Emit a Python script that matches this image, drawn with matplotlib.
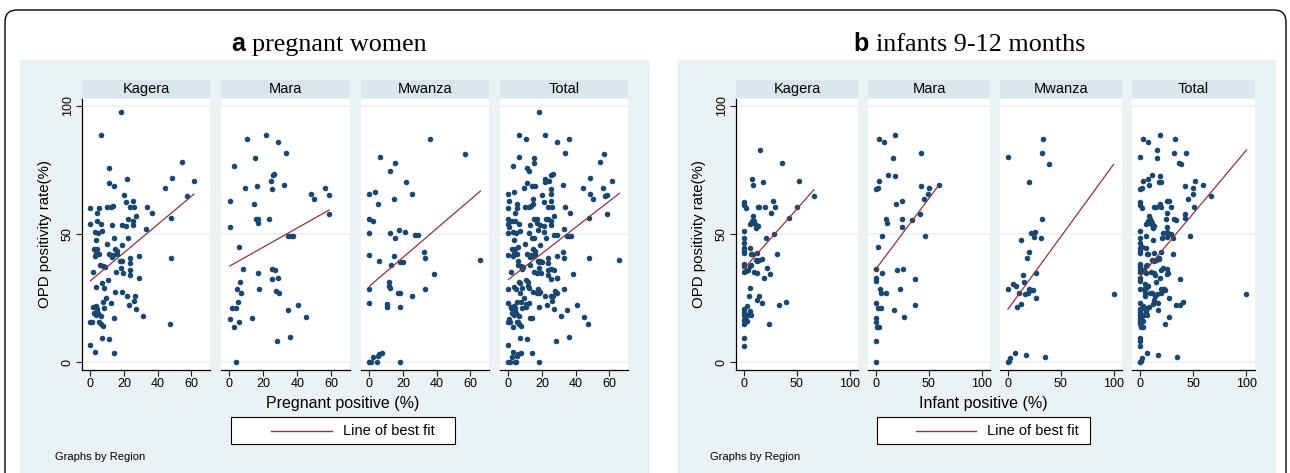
import numpy as np
import matplotlib
matplotlib.use('Agg')
import matplotlib.pyplot as plt
from matplotlib.patches import Rectangle, FancyBboxPatch
from matplotlib.lines import Line2D

plt.rcParams['font.family'] = ['Liberation Sans', 'DejaVu Sans']

# ---- data (x = region positive %, y = OPD positivity %) ----
regions = ['Kagera', 'Mara', 'Mwanza', 'Total']

preg_kagera = [(18, 97.6), (6, 88.5), (11.2, 75.6), (22, 71.4), (11.2, 70.1), (14, 68.8), (44, 67.9),
               (20, 65.2), (21, 62.6), (25, 62.8), (36.6, 58.4), (33.6, 60.4), (0, 60.2), (5.2, 60.1),
               (10, 60.4), (12, 60.4), (13.6, 60.9), (23.6, 60.5), (26, 60.5), (4, 58.1), (27, 57.2),
               (4, 55.3), (22.4, 55.8), (25, 55.3), (0, 54), (6, 53.8), (12.6, 53.5), (19, 53.7),
               (21, 53.3), (25.2, 53.7), (33, 52), (48, 56.3), (2.6, 50.7), (4.6, 50.5), (7, 51.1),
               (14.2, 48.6), (22.6, 48.6), (3.6, 47.6), (10, 46.3), (18.6, 45.6), (2, 44.3), (4.2, 44.3),
               (14.6, 44.2), (15.6, 43.5), (3.2, 42.6), (5.2, 42.4), (11, 42.4), (13.6, 42), (16, 42.2),
               (2.6, 41.3), (13, 41.2), (29, 41.6), (23.6, 40.7), (17.6, 39.6), (18.6, 39.4), (23.6, 38.7),
               (5.6, 38.1), (7.2, 37.4), (8.6, 37.3), (18, 36.8), (23.6, 35.9), (1.4, 35.1), (15, 35.1),
               (19.2, 34.8), (23.6, 34.2), (28.6, 33), (10.6, 32.2), (6.6, 30.9), (3.4, 29.3), (8, 28.9),
               (14.6, 27.6), (18.8, 27.6), (21.6, 25.9), (9.2, 25), (7.6, 23.7), (26.6, 25.7), (25.6, 24),
               (12.2, 23.2), (23.2, 22.4), (1.8, 21.4), (3.6, 21.9), (4.2, 20.9), (8.2, 21.1), (27, 20.9),
               (2, 19.2), (3.2, 18.5), (4.6, 19.2), (6, 18.2), (31.4, 18.1), (0, 15.9), (1.2, 15.9),
               (5, 15.9), (6.2, 15), (7.2, 14.1), (14, 17.3), (47, 14.9), (6.6, 9.5), (11.2, 9.1),
               (0, 6.6), (2.8, 3.9), (14.2, 3.5), (48.5, 72), (54.5, 78), (61.4, 70.8), (57.6, 64.8),
               (47.6, 40.6)]

preg_mara = [(10.4, 87), (21.8, 88.5), (28.8, 86), (15, 79.8), (2.6, 76.5), (25.4, 73), (26.4, 73.3),
             (24.2, 70.9), (9, 67.9), (16, 68.7), (25.2, 67.5), (0.2, 63), (14.4, 61.9), (15.4, 56),
             (16.8, 56), (17, 54.4), (23.4, 55.9), (0.2, 52.8), (5.4, 45), (8.2, 36.2), (17, 34.7),
             (25, 36.5), (27, 36), (25, 32.6), (28.8, 32.7), (6.4, 31.4), (4.4, 28.7), (7, 27),
             (17.4, 28.6), (27.4, 27.9), (29, 27.1), (5.2, 23.5), (1.6, 21.3), (4, 21.1), (0.2, 17),
             (5.6, 15.6), (2.8, 13.8), (13, 17.2), (28.2, 8.2), (3.8, 0), (33.3, 81.5), (32.4, 69.2),
             (48.2, 65.6), (50, 63.8), (56.1, 67.9), (58.7, 65.4), (58.5, 57.8), (34.7, 49.2),
             (36, 49.2), (37.3, 49.2), (34.7, 20.3), (40.5, 22.3), (44.8, 17.5), (35.7, 9.9)]

preg_mwanza = [(6.2, 80), (12, 74.5), (0, 65.7), (3.4, 66.5), (5, 61.7), (0, 55.9), (2.4, 55.1),
               (0, 50.3), (12.4, 50.5), (15, 48.6), (17.3, 51.6), (21, 50.9), (27.3, 49.5), (28.6, 49.5),
               (15, 77.6), (14.8, 63.6), (21.6, 70.3), (25, 65.6), (36, 87.2), (56.8, 81.3), (0, 41.9),
               (5.6, 39.5), (14.8, 41.4), (13, 37.9), (18, 39.2), (19.8, 39.1), (32.3, 43.1),
               (32.8, 40.6), (38.6, 34.6), (65.9, 39.8), (11.6, 31.2), (11.8, 29.9), (12.4, 28.9),
               (0, 28.6), (17.2, 27.1), (18, 27.1), (33, 28.5), (25, 26), (0, 23.2), (10.4, 22.8),
               (10.4, 21.4), (18, 21.4), (0, 0), (0.8, 0), (4.4, 0), (18, 0), (2.4, 2), (4.8, 2.5),
               (5.8, 3.1), (7.6, 3.7)]

inf_kagera = [(15.6, 82.7), (36.3, 77.8), (7.5, 71.4), (8.8, 69), (17.8, 70.3), (51.9, 70.8), (66.3, 64.8),
              (0, 62.6), (0.3, 61.3), (1.9, 60.2), (13.4, 60.5), (14.7, 60.5), (19.7, 60.5), (27.2, 62.8),
              (29.4, 60.5), (25.6, 58.3), (50.6, 60.5), (42.5, 56.3), (8.8, 57.1), (5.6, 54), (7.5, 54.8),
              (10, 55.3), (11.6, 53.7), (13.4, 53.2), (11.9, 52.2), (9, 54.2), (7.2, 55.3), (0, 51.1),
              (0, 48.5), (0, 46.5), (0, 44.6), (0, 43.3), (0, 42.6), (20.9, 48.6), (28.8, 50.2),
              (5.3, 44.6), (6.3, 42.4), (7.5, 42.4), (12.8, 42.6), (31.3, 42.2), (11.6, 40), (14.7, 40),
              (17.5, 40.3), (12.8, 39.4), (0, 38.5), (0, 37.4), (5.3, 37.4), (6.3, 38.1), (21.9, 36.8),
              (4, 35.9), (1.9, 35.5), (0, 35.1), (10, 35.1), (12.8, 34.8), (25, 34.3), (19, 33),
              (6, 28.9), (4.4, 25.8), (14.4, 25.9), (12.8, 24.2), (16.9, 23.2), (40.3, 23.6), (33.4, 22.3),
              (0, 20.9), (0, 19.6), (0, 18.3), (0, 16.6), (0, 14.9), (3.1, 21.8), (5.3, 20.2), (1.3, 17.2),
              (3.8, 18.3), (6.6, 18.3), (2.5, 16.2), (0.6, 15.6), (23.4, 14.9), (0, 9.5), (0, 6.5)]

inf_mara = [(18.4, 88.5), (2.8, 87), (7.5, 86), (16.3, 79.8), (42.8, 81.5), (11.3, 73.1), (18.4, 72.6),
            (2.5, 70.9), (0, 67.5), (2.2, 67.9), (42.5, 68.7), (50, 67.9), (49.7, 65.6), (59.4, 69.2),
            (45.3, 63.6), (18.8, 61.9), (25, 63.1), (41.9, 57.9), (9.7, 55.9), (10.9, 54.4), (24.4, 55.9),
            (34, 55.7), (25, 52.8), (5.3, 49.2), (46.6, 49.2), (1.6, 45), (0, 36.4), (5.6, 34.7),
            (19.7, 36), (25.3, 36.4), (0, 32.9), (0, 31.6), (37.2, 32.5), (4.1, 28.7), (4.4, 26.9),
            (9.7, 26.9), (22.8, 28.6), (0, 23.3), (1.6, 21.1), (5, 21), (16.9, 20.3), (37.2, 22.3),
            (26.9, 17.5), (0.3, 17.2), (0.3, 15.8), (1.3, 13.6), (2.8, 13.6), (0, 8.2), (0, 0)]

inf_mwanza = [(33.1, 87.2), (0, 80), (31.9, 81.5), (38.8, 77.3), (19.7, 70.3), (31.9, 55.8), (21.9, 50.6),
              (25.3, 51), (25, 49), (30.9, 48.4), (12.5, 47.8), (19.7, 43.2), (17.8, 40.7), (26.6, 34.7),
              (14.4, 33.9), (15.3, 31.2), (5, 30.4), (7.5, 29.9), (0, 28.7), (20, 28.4), (21.9, 28.2),
              (23.8, 28.2), (19.4, 27.1), (16.3, 26.7), (10.9, 26.9), (26.9, 24.9), (12.2, 22.8),
              (8.8, 21.4), (0, 0), (0.6, 0.5), (1.9, 1.6), (6.3, 3.5), (17.2, 2.9), (34.7, 2), (100, 26.8)]

# line of best fit per facet: (intercept, slope)
fit_preg = [(31.8, 0.55), (37.5, 0.373), (29.7, 0.563), (32.3, 0.51)]
fit_inf = [(36.5, 0.465), (36.4, 0.549), (20.7, 0.565), (33.3, 0.495)]

W, H = 1290, 473
BG = '#eaf2f3'
STRIP = '#d9e6eb'
NAVY = '#1a476f'
MAROON = '#90353b'

fig = plt.figure(figsize=(W / 100, H / 100), dpi=100)
fig.patch.set_facecolor('white')


def fx(x):
    return x / W


def fy(y):
    return 1 - y / H


# outer rounded border
border = FancyBboxPatch((5 / 100, -0.5), 1281 / 100, (H - 10) / 100 + 0.5,
                        boxstyle='round,pad=0,rounding_size=0.12', transform=fig.dpi_scale_trans,
                        facecolor='white', edgecolor='black', linewidth=1.0, zorder=0)
fig.patches.append(border)


def draw_panel(groups, fits, facets, bg_x, xlim, xticks, xlabel, xlabel_x, ylab_x,
               legend_box, legend_line, graphs_x, tag, title, tag_x, title_x):
    # panel background
    fig.patches.append(Rectangle((fx(bg_x[0]), 0), fx(bg_x[1]) - fx(bg_x[0]), fy(60),
                                 transform=fig.transFigure, facecolor=BG, edgecolor='none', zorder=1))
    allx = np.concatenate([np.array(g)[:, 0] for g in groups])
    ally = np.concatenate([np.array(g)[:, 1] for g in groups])
    data = [(np.array(g)[:, 0], np.array(g)[:, 1]) for g in groups] + [(allx, ally)]
    for i, (x0, x1) in enumerate(facets):
        ax = fig.add_axes([fx(x0), fy(370), fx(x1) - fx(x0), fy(99) - fy(370)])
        ax.set_zorder(3)
        ax.set_facecolor('white')
        xs, ys = data[i]
        for g in (0, 50, 100):
            ax.axhline(g, color=BG, lw=1.2, zorder=1)
        ax.scatter(xs, ys, s=16, color=NAVY, linewidths=0, zorder=3)
        b0, b1 = fits[i]
        lx = np.array([xs.min(), xs.max()])
        ax.plot(lx, b0 + b1 * lx, color=MAROON, lw=0.9, zorder=4)
        ax.set_xlim(*xlim)
        ax.set_ylim(-3, 102.7)
        ax.set_xticks(xticks)
        ax.tick_params(axis='x', length=4, width=0.8, labelsize=9, pad=2, color='#222222')
        for s in ('top', 'right'):
            ax.spines[s].set_visible(False)
        ax.spines['bottom'].set_linewidth(0.9)
        if i == 0:
            ax.set_yticks([0, 50, 100])
            ax.tick_params(axis='y', length=4, width=0.8, labelsize=9, pad=2, color='#222222')
            for lab in ax.get_yticklabels():
                lab.set_rotation(90)
                lab.set_va('center')
            ax.spines['left'].set_linewidth(0.9)
        else:
            ax.set_yticks([])
            ax.spines['left'].set_visible(False)
        # strip
        fig.patches.append(Rectangle((fx(x0), fy(98)), fx(x1) - fx(x0), fy(80) - fy(98),
                                     transform=fig.transFigure, facecolor=STRIP, edgecolor='none', zorder=2))
        fig.text(fx((x0 + x1) / 2), fy(89), regions[i], ha='center', va='center', fontsize=10.5, zorder=5)

    fig.text(fx(ylab_x), fy(234), 'OPD positivity rate(%)', rotation=90, ha='center', va='center',
             fontsize=10.8, zorder=5)
    fig.text(fx(xlabel_x), fy(403), xlabel, ha='center', va='center', fontsize=11.5, zorder=5)

    # legend
    lx0, lx1 = legend_box
    fig.patches.append(Rectangle((fx(lx0), fy(444)), fx(lx1) - fx(lx0), fy(417) - fy(444),
                                 transform=fig.transFigure, facecolor='white', edgecolor='black',
                                 linewidth=0.8, zorder=4))
    fig.lines.append(Line2D([fx(legend_line[0]), fx(legend_line[1])], [fy(430.5), fy(430.5)],
                            transform=fig.transFigure, color=MAROON, lw=1.0, zorder=5))
    fig.text(fx(legend_line[1] + 11), fy(430.5), 'Line of best fit', ha='left', va='center',
             fontsize=10.5, zorder=5)
    fig.text(fx(graphs_x), fy(457), 'Graphs by Region', ha='left', va='center', fontsize=8, zorder=5)

    # title: bold sans letter + serif text
    fig.text(fx(tag_x), fy(51), tag, ha='left', va='baseline', fontsize=18, fontweight='bold',
             family=['Liberation Sans', 'DejaVu Sans'], zorder=5)
    fig.text(fx(title_x), fy(51), title, ha='left', va='baseline', fontsize=18.8,
             family=['Liberation Serif', 'DejaVu Serif'], zorder=5)


draw_panel([preg_kagera, preg_mara, preg_mwanza], fit_preg,
           [(82, 210), (221, 350), (361, 489), (500, 628)], (20, 650),
           (-5, 71), [0, 20, 40, 60], 'Pregnant positive (%)', 343, 45,
           (231, 455), (271, 332), 55, 'a', 'pregnant women', 231, 252)

draw_panel([inf_kagera, inf_mara, inf_mwanza], fit_inf,
           [(736, 858), (868, 990), (1000, 1122), (1132, 1255)], (677, 1276),
           (-7.5, 108), [0, 50, 100], 'Infant positive (%)', 983, 699,
           (877, 1090), (916, 976), 710, 'b', 'infants 9-12 months', 853, 876)

fig.savefig('out.png', dpi=100, facecolor='white')
